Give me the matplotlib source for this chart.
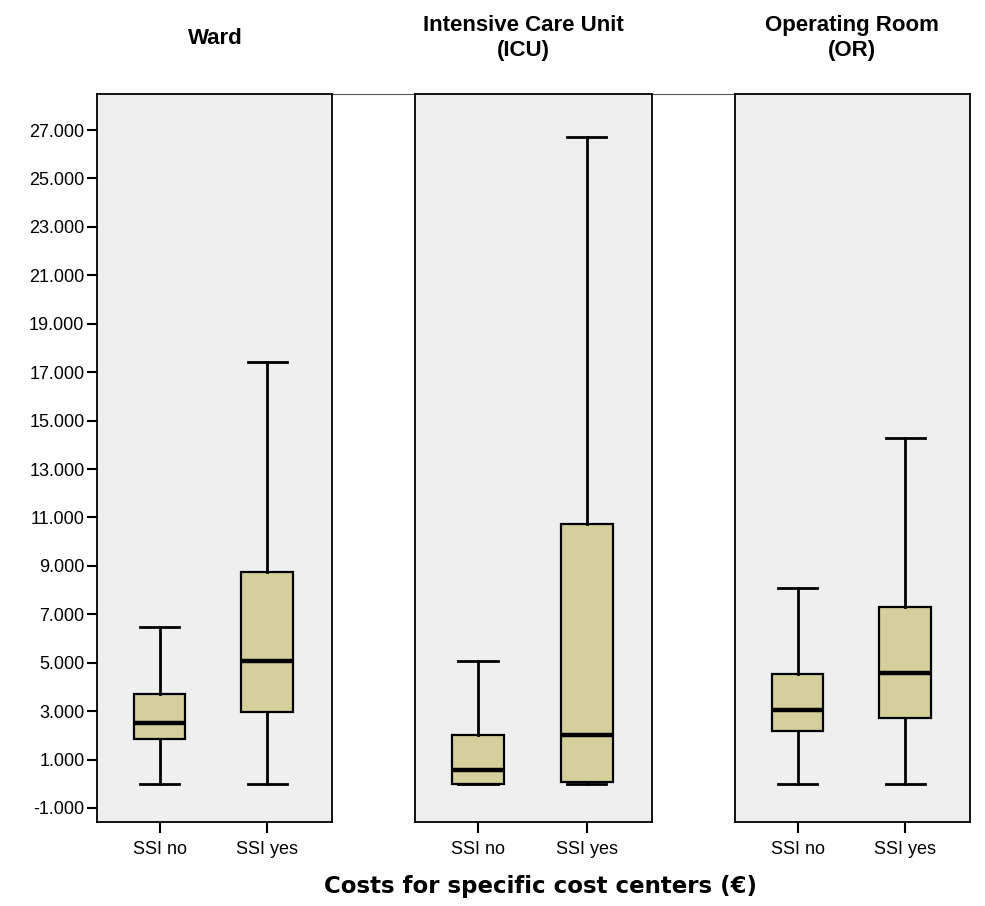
import matplotlib.pyplot as plt
from matplotlib.lines import Line2D

# cost centers and groups
panels = ["Ward", "Intensive Care Unit\n(ICU)", "Operating Room\n(OR)"]
groups = ["SSI no", "SSI yes"]

# five-number summaries per panel: [SSI no, SSI yes]
whislo = [[0, 0], [0, 0], [0, 0]]
q1 = [[1840, 2980], [0, 90], [2180, 2730]]
med = [[2520, 5090], [570, 2020], [3050, 4560]]
q3 = [[3710, 8740], [2020, 10730], [4540, 7310]]
whishi = [[6490, 17420], [5080, 26700], [8100, 14270]]

yticks = list(range(-1000, 28000, 2000))
ytick_labels = [f"{v:,}".replace(",", ".") for v in yticks]

box_color = "#d5d09b"
panel_bg = "#efefef"

fig = plt.figure(figsize=(9.85, 9.06), dpi=100)
plt.rcParams["font.family"] = ["Liberation Sans", "DejaVu Sans"]

lefts = [97, 415, 735]
widths = [235, 237, 235]
title_x = [215, 523, 852]
bottom = 1 - 822 / 906
height = (822 - 94) / 906

axes = []
for i, title in enumerate(panels):
    ax = fig.add_axes([lefts[i] / 985, bottom, widths[i] / 985, height])
    ax.set_facecolor(panel_bg)
    stats = []
    for j, g in enumerate(groups):
        stats.append({
            "label": g,
            "whislo": whislo[i][j],
            "q1": q1[i][j],
            "med": med[i][j],
            "q3": q3[i][j],
            "whishi": whishi[i][j],
            "fliers": [],
        })
    ax.bxp(stats, positions=[1, 2], widths=0.48, patch_artist=True,
           showfliers=False,
           boxprops=dict(facecolor=box_color, edgecolor="black", linewidth=1.6),
           medianprops=dict(color="black", linewidth=3.2),
           whiskerprops=dict(color="black", linewidth=2.0),
           capprops=dict(color="black", linewidth=2.0),
           capwidths=0.36)
    ax.set_xlim(0.42, 2.6)
    ax.set_ylim(-1580, 28490)
    for s in ax.spines.values():
        s.set_linewidth(1.3)
    ax.tick_params(axis="x", length=8, width=1.5, labelsize=13, pad=6)
    # panel title, centred over the panel
    fig.text(title_x[i] / 985, 1 - 38 / 906, title,
             ha="center", va="center", fontsize=16, fontweight="bold",
             linespacing=1.2)
    if i == 0:
        ax.set_yticks(yticks)
        ax.set_yticklabels(ytick_labels)
        ax.tick_params(axis="y", length=7, width=1.5, labelsize=13, pad=2)
    else:
        ax.set_yticks([])
    axes.append(ax)

# thin line joining the panel tops
top_y = 1 - 94 / 906
fig.add_artist(Line2D([332 / 985, 735 / 985], [top_y, top_y],
                      transform=fig.transFigure, color="#555555",
                      linewidth=0.8, zorder=0))

fig.text(540 / 985, 1 - 886 / 906, "Costs for specific cost centers (€)",
         ha="center", va="center", fontsize=16.5, fontweight="bold",
         family=["DejaVu Sans"])

fig.savefig("out.png", dpi=100)
